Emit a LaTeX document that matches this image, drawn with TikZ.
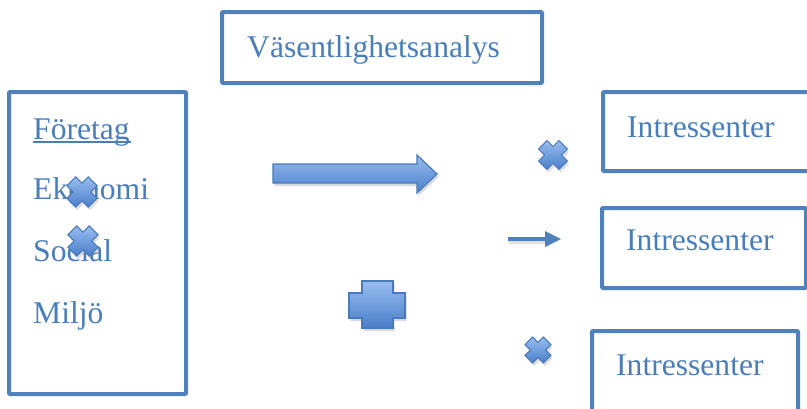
\documentclass[tikz,border=0pt]{standalone}
\usepackage{fontspec}
\setmainfont{Liberation Serif}
\usetikzlibrary{shadows}
\definecolor{boxblue}{HTML}{4F81BD}
\definecolor{txtblue}{HTML}{4A7EBB}
\definecolor{shapetop}{HTML}{98BDF0}
\definecolor{shapebot}{HTML}{4A7ECA}
\definecolor{shapeline}{HTML}{4A7BB9}
\tikzset{
  frame/.style={draw=boxblue, line width=4pt, rounded corners=1pt, fill=white},
  lbl/.style={anchor=base west, inner sep=0pt, text=txtblue, font=\fontsize{31.6}{38}\selectfont},
  shapefill/.style={draw=shapeline, line width=1.2pt, top color=shapetop, bottom color=shapebot,
    drop shadow={shadow xshift=1.5pt, shadow yshift=-3pt, opacity=0.25, fill=black!60}},
  pics/xmark/.style={code={
    \fill[black!60, opacity=0.22, shift={(1.5,3)}, rotate=45]
      (#1*0.3,#1*0.72)--(#1*0.3,#1*0.3)--(#1*0.72,#1*0.3)--(#1*0.72,-#1*0.3)--(#1*0.3,-#1*0.3)--(#1*0.3,-#1*0.72)
      --(-#1*0.3,-#1*0.72)--(-#1*0.3,-#1*0.3)--(-#1*0.72,-#1*0.3)--(-#1*0.72,#1*0.3)--(-#1*0.3,#1*0.3)--(-#1*0.3,#1*0.72)--cycle;
    \path[draw=shapeline, line width=1pt, top color=shapetop, bottom color=shapebot, rotate=45]
      (#1*0.3,#1*0.72)--(#1*0.3,#1*0.3)--(#1*0.72,#1*0.3)--(#1*0.72,-#1*0.3)--(#1*0.3,-#1*0.3)--(#1*0.3,-#1*0.72)
      --(-#1*0.3,-#1*0.72)--(-#1*0.3,-#1*0.3)--(-#1*0.72,-#1*0.3)--(-#1*0.72,#1*0.3)--(-#1*0.3,#1*0.3)--(-#1*0.3,#1*0.72)--cycle;
  }}
}
\begin{document}
\begin{tikzpicture}[x=1pt,y=-1pt]
\useasboundingbox (0,0) rectangle (807,408);
\fill[white] (0,0) rectangle (807,408);

% frames
\draw[frame] (222,12) rectangle (542,83);
\draw[frame] (9,92) rectangle (186,394);
\draw[frame] (603,92) rectangle (812,171);
\draw[frame] (602,208) rectangle (806,288);
\draw[frame] (592,331) rectangle (798,414);

% texts
\node[lbl] (title) at (247,57) {Väsentlighetsanalys};
\node[lbl] (foretag) at (33,139) {Företag};
\draw[txtblue, line width=1.5pt] (33,142) -- (131,142);
\node[lbl] (ekonomi) at (33,199) {Ekonomi};
\node[lbl] (social) at (33,261) {Social};
\node[lbl] (miljo) at (33,323) {Miljö};
\node[lbl] (int1) at (627,137) {Intressenter};
\node[lbl] (int2) at (626,250) {Intressenter};
\node[lbl] (int3) at (616,375) {Intressenter};

% big arrow
\path[shapefill] (273,164) -- (417,164) -- (417,155) -- (437,174) -- (417,193) -- (417,183) -- (273,183) -- cycle;

% small arrow
\fill[black!60, opacity=0.2] (509,239) rectangle (546,244);
\fill[boxblue] (508,237) rectangle (546,241);
\fill[boxblue] (545,231) -- (561,239) -- (545,247) -- cycle;

% plus
\path[shapefill] (362,281) -- (393,281) -- (393,293) -- (405,293) -- (405,318) -- (393,318) -- (393,328)
  -- (362,328) -- (362,318) -- (349,318) -- (349,293) -- (362,293) -- cycle;

% crosses
\pic at (82,192) {xmark=21};
\pic at (83,241) {xmark=21};
\pic at (553,155) {xmark=20};
\pic at (538,350) {xmark=18};
\end{tikzpicture}
\end{document}
